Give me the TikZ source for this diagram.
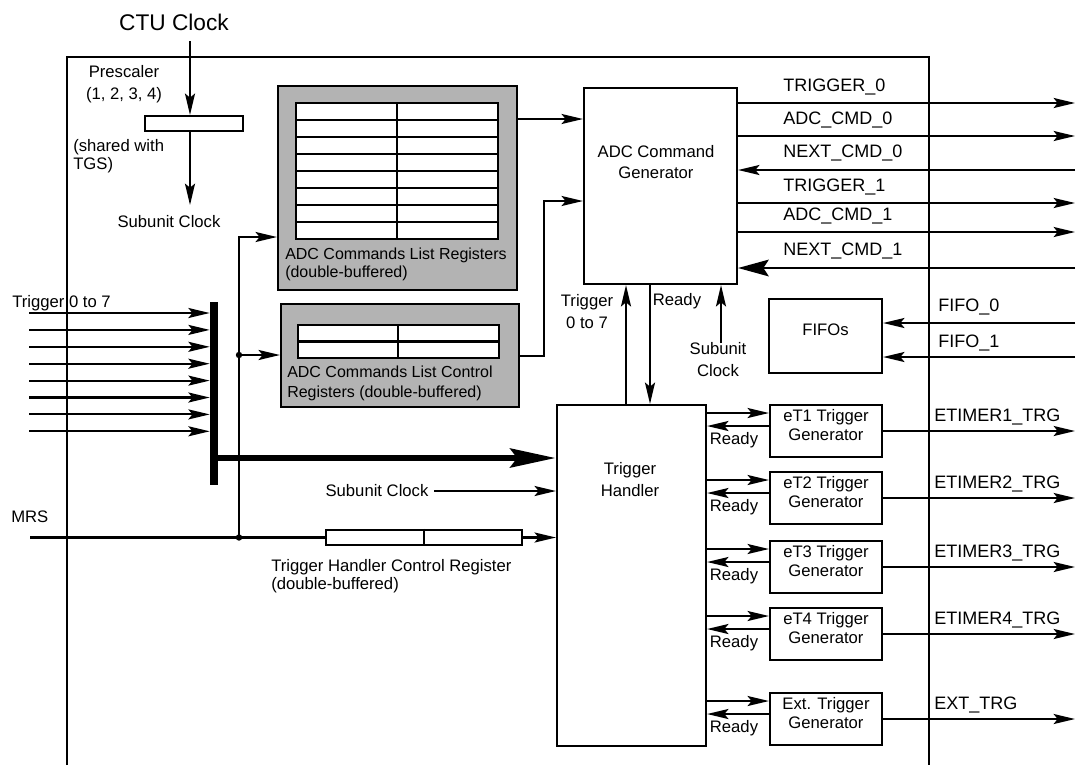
\documentclass[tikz,border=0pt]{standalone}
\usepackage{fontspec}
\setmainfont{Liberation Sans}
\usetikzlibrary{arrows.meta,positioning,fit,calc}
\definecolor{regfill}{HTML}{B3B3B3}
\newcommand{\sigfont}{\fontsize{13.5}{15}\selectfont}

\begin{document}
\begin{tikzpicture}[x=0.75pt,y=-0.75pt,font=\fontsize{12.5}{16}\selectfont,
  blk/.style={draw,line width=1.6pt,inner sep=0pt,align=center},
  regbox/.style={blk,fill=regfill},
  lbl/.style={inner sep=0pt,align=center},
  wire/.style={line width=1.6pt},
  sig/.style={wire,-{Stealth[length=16pt,width=7.5pt,inset=3pt]}},
  wide/.style={wire,-{Stealth[length=23pt,width=12.5pt,inset=4pt]}},
  busline/.style={line width=5.2pt,-{Stealth[length=34pt,width=14pt,inset=5pt]}}]
  \useasboundingbox (0,0) rectangle (1080,765);

  % outer frame, open at the bottom
  \draw[wire] (67,765) -- (67,57) -- (929,57) -- (929,765);

  % clock and prescaler
  \node[lbl,font=\fontsize{17}{20}\selectfont] (ctu) at (174,22) {CTU Clock};
  \node[blk,fill=white,fit={(145,116) (243,131)}] (presc) {};
  \node[lbl,font=\fontsize{12.5}{16.5}\selectfont] (presclbl) at (124,84) {Prescaler\\(1, 2, 3, 4)};
  \node[lbl,align=left,anchor=west,font=\fontsize{12.5}{13.5}\selectfont] (shared) at (73,156)
    {(shared with\\TGS)};
  \node[lbl] (subclk) at (169,222) {Subunit Clock};
  \coordinate (clkin) at (190,41);
  \coordinate (clkout) at (190,205);
  \draw[sig] (clkin) -- (clkin |- presc.north);
  \draw[sig] (clkout |- presc.south) -- (clkout);

  % ADC commands list registers
  \node[regbox,fit={(278,86) (517,290)}] (cmdlist) {};
  \fill[white] (296,103) rectangle (498,239);
  \foreach \r in {0,...,8}
    \draw[wire] (296,103+17*\r) -- (498,103+17*\r);
  \draw[wire] (296,103) rectangle (498,239) (397,103) -- (397,239);
  \node[lbl,align=left,anchor=west,font=\fontsize{12}{13.5}\selectfont] (cmdlbl) at (285,264)
    {ADC Commands List Registers\\(double-buffered)};

  % ADC commands list control registers
  \node[regbox,fit={(281,304) (519,407)}] (ctlreg) {};
  \fill[white] (298,325) rectangle (499,358);
  \draw[wire] (298,325) rectangle (499,358) (298,341.5) -- (499,341.5) (398,325) -- (398,358);
  \node[lbl,align=left,anchor=west,font=\fontsize{12}{15}\selectfont] (ctllbl) at (287,383)
    {ADC Commands List Control\\Registers (double-buffered)};

  % ADC command generator
  \node[blk,fit={(584,88) (737,284)}] (acg) {};
  \node[lbl,font=\fontsize{12.5}{15.75}\selectfont] (acgtxt) at (656,162) {ADC Command\\Generator};
  \coordinate (acgin1) at (584,119);
  \coordinate (acgin2) at (584,201);
  \coordinate (ctlout) at (519,356);
  \draw[sig] (cmdlist.east |- acgin1) -- (acg.west |- acgin1);
  \draw[sig] (ctlreg.east |- ctlout) -- ++(24,0) |- (acg.west |- acgin2);

  \foreach \y/\sname in {103/TRIGGER\_0,136/ADC\_CMD\_0,203/TRIGGER\_1,232/ADC\_CMD\_1}{
    \coordinate (out\y) at (1075,\y);
    \draw[sig] (acg.east |- out\y) -- (out\y);
    \node[lbl,anchor=west,font=\sigfont] (sig\y) at (783,\y-16) {\sname};
  }
  \coordinate (nxt0) at (1075,170);
  \coordinate (nxt1) at (1075,268);
  \draw[sig] (nxt0) -- (acg.east |- nxt0);
  \draw[wide] (nxt1) -- (acg.east |- nxt1);
  \node[lbl,anchor=west,font=\sigfont] (nxtlbl0) at (783,153) {NEXT\_CMD\_0};
  \node[lbl,anchor=west,font=\sigfont] (nxtlbl1) at (783,251) {NEXT\_CMD\_1};

  % trigger handler
  \node[blk,fit={(557,405) (706,746)}] (th) {};
  \node[lbl,font=\fontsize{12.5}{16.5}\selectfont] (thtxt) at (630,480) {Trigger\\Handler};
  \coordinate (trgup) at (626,405);
  \coordinate (rdydn) at (650,405);
  \coordinate (sclk) at (721,343);
  \draw[sig] (th.north -| trgup) -- (acg.south -| trgup);
  \draw[sig] (acg.south -| rdydn) -- (th.north -| rdydn);
  \draw[sig] (sclk) -- (acg.south -| sclk);
  \node[lbl,font=\fontsize{12.5}{16.5}\selectfont] (trglbl) at (587,312) {Trigger\\0 to 7};
  \node[lbl] (rdylbl) at (677,301) {Ready};
  \node[lbl,font=\fontsize{12.5}{16.5}\selectfont] (sclklbl) at (718,360) {Subunit\\Clock};

  % FIFOs
  \node[blk,fit={(769,299) (882,373)}] (fifo) {FIFOs};
  \coordinate (fin0) at (1075,323);
  \coordinate (fin1) at (1075,357);
  \draw[sig] (fin0) -- (fin0 -| fifo.east);
  \draw[sig] (fin1) -- (fin1 -| fifo.east);
  \node[lbl,anchor=west,font=\sigfont] (fifolbl0) at (938,307) {FIFO\_0};
  \node[lbl,anchor=west,font=\sigfont] (fifolbl1) at (938,343) {FIFO\_1};

  % trigger generators
  \foreach \t/\gname/\oname [count=\k] in {405/eT1 Trigger/ETIMER1\_TRG,472/eT2 Trigger/ETIMER2\_TRG,
      541/eT3 Trigger/ETIMER3\_TRG,608/eT4 Trigger/ETIMER4\_TRG,693/Ext. Trigger/EXT\_TRG}{
    \node[blk,fit={(770,\t) (882,\t+52)},font=\fontsize{12.5}{14.25}\selectfont] (gen\k) {\gname\\Generator};
    \coordinate (go\k) at (0,\t+8);
    \coordinate (back\k) at (0,\t+21);
    \coordinate (trgout\k) at (1075,\t+26);
    \draw[sig] (th.east |- go\k) -- (gen\k.west |- go\k);
    \draw[sig] (gen\k.west |- back\k) -- (th.east |- back\k);
    \draw[sig] (gen\k.east |- trgout\k) -- (trgout\k);
    \node[lbl] (rdy\k) at (734,\t+35) {Ready};
    \node[lbl,anchor=west,font=\sigfont] (olbl\k) at (934,\t+12) {\oname};
  }

  % trigger inputs and bus
  \node[fill=black,inner sep=0pt,fit={(210,302) (218,485)}] (bar) {};
  \node[lbl,anchor=west] (trgin) at (12,303) {Trigger 0 to 7};
  \foreach \i in {0,...,7}{
    \coordinate (tin\i) at (29,313+16.9*\i);
    \draw[sig] (tin\i) -- (bar.west |- tin\i);
  }
  \coordinate (busy) at (0,458);
  \draw[busline] (bar.east |- busy) -- (th.west |- busy);

  % MRS, control register and splits
  \node[lbl,anchor=west] (mrs) at (11,517) {MRS};
  \node[blk,fill=white,fit={(326,530) (522,545)}] (thcr) {};
  \draw[wire] (thcr.north) -- (thcr.south);
  \coordinate (mrsin) at (30,537.5);
  \coordinate (mrsdot) at (239,537.5);
  \coordinate (ctldot) at (239,355);
  \coordinate (listin) at (0,237);
  \draw[wire] (mrsin) -- (thcr.west);
  \draw[sig] (thcr.east) -- (th.west |- thcr.east);
  \draw[sig] (mrsdot) |- (cmdlist.west |- listin);
  \draw[sig] (ctldot) -- (ctlreg.west |- ctldot);
  \fill (mrsdot) circle (2.4pt) (ctldot) circle (2.4pt);
  \node[lbl] (subclk2) at (377,491) {Subunit Clock};
  \draw[sig] ([xshift=4pt]subclk2.east) -- (th.west |- subclk2.east);
  \node[lbl,align=left,anchor=west,font=\fontsize{12.5}{13.5}\selectfont] (thcrlbl) at (271,576)
    {Trigger Handler Control Register\\(double-buffered)};
\end{tikzpicture}
\end{document}
